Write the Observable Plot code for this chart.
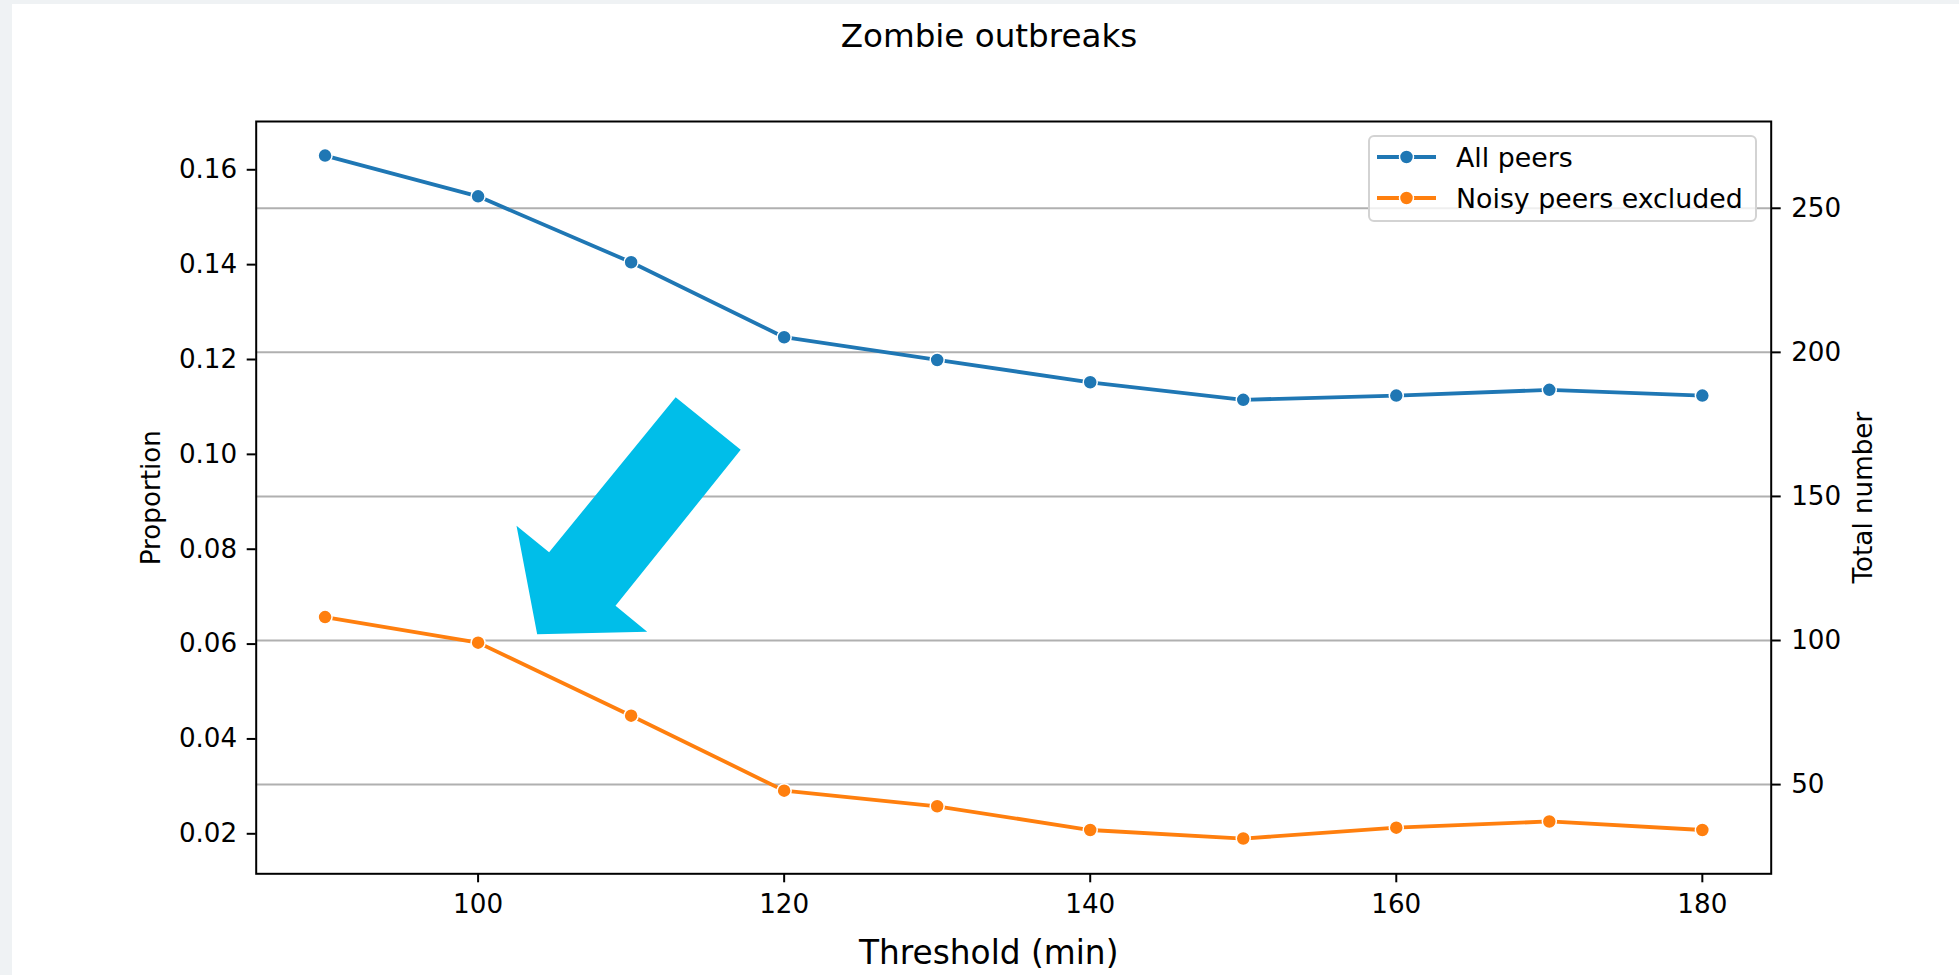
<!DOCTYPE html>
<html>
<head>
<meta charset="utf-8">
<script src="https://cdn.jsdelivr.net/npm/d3@7"></script>
<script src="https://cdn.jsdelivr.net/npm/@observablehq/plot@0.6"></script>
<style>
html, body { margin: 0; padding: 0; }
body { background: #eff2f4; width: 1959px; height: 975px; overflow: hidden; font-family: "DejaVu Sans", sans-serif; }
#wrap { position: absolute; left: 12px; top: 4px; width: 1947px; height: 971px; background: #fff; }
#title { width: 1947px; height: 65px; line-height: 65px; font-size: 32.6px; text-align: center; padding-left: 7px; box-sizing: border-box; color: #000; }
#legend { position: absolute; left: 1356px; top: 131px; width: 389px; height: 87px; box-sizing: border-box; border: 2px solid #d3d3d3; border-radius: 6px; background: rgba(255,255,255,0.8); }
.row { position: absolute; left: 7px; height: 40px; display: flex; align-items: center; font-size: 26.8px; color: #000; }
.row svg { margin-right: 19px; }
</style>
</head>
<body>
<div id="wrap">
  <div id="title">Zombie outbreaks</div>
  <div id="chart"></div>
  <div id="legend"></div>
</div>
<script>
// ---- data ----
const thresholds = [90, 100, 110, 120, 130, 140, 150, 160, 170, 180];
const allPeers = [0.1630, 0.1544, 0.1405, 0.1247, 0.1199, 0.1152, 0.1115, 0.1124, 0.1136, 0.1124];
const noisyExcluded = [0.0657, 0.0603, 0.0449, 0.0291, 0.0258, 0.0208, 0.0190, 0.0213, 0.0226, 0.0208];
const seriesNames = ["All peers", "Noisy peers excluded"];
const seriesColors = ["#1f77b4", "#ff7f0e"];
const xTicks = [100, 120, 140, 160, 180];
const leftTicks = [0.02, 0.04, 0.06, 0.08, 0.10, 0.12, 0.14, 0.16];
const rightTicks = [50, 100, 150, 200, 250];
const totalFactor = 1646; // Total number = Proportion x totalFactor
// annotation arrow outline, in data units (threshold, proportion)
const arrowX = [112.91, 117.16, 108.98, 111.05, 103.86, 102.51, 104.64];
const arrowY = [0.11205, 0.10096, 0.06807, 0.06259, 0.06209, 0.08494, 0.07937];
const arrowColor = "#00bee9";
const titleText = "Zombie outbreaks";
const xLabel = "Threshold (min)";
const yLabelLeft = "Proportion";
const yLabelRight = "Total number";

const rows = thresholds.flatMap((t, i) => [
  {t, v: allPeers[i], s: seriesNames[0]},
  {t, v: noisyExcluded[i], s: seriesNames[1]}
]);
const arrow = arrowX.map((x, i) => ({x, y: arrowY[i]}));

const chart = Plot.plot({
  width: 1947,
  height: 906,
  marginTop: 52,
  marginBottom: 101.7,
  marginLeft: 243.7,
  marginRight: 188.3,
  style: {fontFamily: "DejaVu Sans", fontSize: "26.2px", color: "#000", background: "transparent", overflow: "visible"},
  x: {domain: [85.5, 184.5]},
  y: {domain: [0.011566, 0.17018]},
  color: {domain: seriesNames, range: seriesColors},
  marks: [
    Plot.gridY(rightTicks.map(d => d / totalFactor), {stroke: "#b0b0b0", strokeOpacity: 1, strokeWidth: 2}),
    Plot.line(arrow, {x: "x", y: "y", fill: arrowColor, stroke: "none"}),
    Plot.line(rows, {x: "t", y: "v", z: "s", stroke: "s", strokeWidth: 3.8}),
    Plot.dot(rows, {x: "t", y: "v", fill: "s", stroke: "white", strokeWidth: 1.5, r: 7}),
    Plot.frame({stroke: "black", strokeWidth: 2}),
    Plot.axisX(xTicks, {tickSize: 9, tickPadding: 12, strokeWidth: 2, label: null}),
    Plot.axisY(leftTicks, {anchor: "left", tickSize: 9, tickPadding: 10, strokeWidth: 2,
      tickFormat: d3.format(".2f"), label: yLabelLeft, labelAnchor: "center", labelOffset: 115, labelArrow: "none"}),
    Plot.axisY(rightTicks.map(d => d / totalFactor), {anchor: "right", tickSize: 9, tickPadding: 11, strokeWidth: 2,
      tickFormat: d => String(Math.round(d * totalFactor)), label: yLabelRight, labelAnchor: "center", labelOffset: 101, labelArrow: "none"}),
    Plot.text([xLabel], {text: d => d, frameAnchor: "bottom", dy: 90, dx: -25, lineAnchor: "bottom", fontSize: 32.8})
  ]
});
document.getElementById("chart").appendChild(chart);
document.getElementById("title").textContent = titleText;

// legend
const legend = document.getElementById("legend");
seriesNames.forEach((name, i) => {
  const row = document.createElement("div");
  row.className = "row";
  row.style.top = (i === 0 ? 0 : 41) + "px";
  const ns = "http://www.w3.org/2000/svg";
  const sw = document.createElementNS(ns, "svg");
  sw.setAttribute("width", "60");
  sw.setAttribute("height", "20");
  const ln = document.createElementNS(ns, "line");
  ln.setAttribute("x1", "0"); ln.setAttribute("x2", "59");
  ln.setAttribute("y1", "10"); ln.setAttribute("y2", "10");
  ln.setAttribute("stroke", seriesColors[i]); ln.setAttribute("stroke-width", "3.8");
  const c = document.createElementNS(ns, "circle");
  c.setAttribute("cx", "29.5"); c.setAttribute("cy", "10"); c.setAttribute("r", "7");
  c.setAttribute("fill", seriesColors[i]); c.setAttribute("stroke", "white"); c.setAttribute("stroke-width", "1.5");
  sw.appendChild(ln); sw.appendChild(c);
  const label = document.createElement("span");
  label.textContent = name;
  row.appendChild(sw); row.appendChild(label);
  legend.appendChild(row);
});
</script>
</body>
</html>
